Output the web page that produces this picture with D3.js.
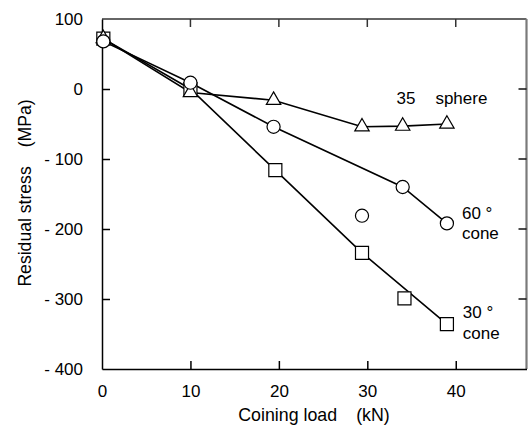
<!DOCTYPE html>
<html>
<head>
<meta charset="utf-8">
<script src="https://cdn.jsdelivr.net/npm/d3@7"></script>
<style>
  body { margin: 0; background: #fff; }
  text { font-family: "Liberation Sans", Arial, sans-serif; fill: #000; }
</style>
</head>
<body>
<svg id="chart" width="530" height="426"></svg>
<script>
// tick values / labels
const xTicks = [0, 10, 20, 30, 40];
const yTicks = [100, 0, -100, -200, -300, -400];
const yTickLabel = v => v < 0 ? "- " + Math.abs(v) : String(v);

// 35 sphere (triangles)
const sphereLoad = [0.15, 10, 19.4, 29.4, 34, 39];
const sphereStress = [72, -5, -16, -54, -53, -50];

// 60 deg cone (circles), connected points + one loose point
const cone60Load = [0.15, 10, 19.4, 34, 39];
const cone60Stress = [68, 9, -54, -140, -192];
const cone60ExtraLoad = [29.4];
const cone60ExtraStress = [-181];

// 30 deg cone (squares), connected points + one loose point
const cone30Load = [0.15, 10, 19.6, 29.4, 39];
const cone30Stress = [72, 0, -116, -234, -336];
const cone30ExtraLoad = [34.2];
const cone30ExtraStress = [-299];

const zip = (xs, ys) => xs.map((x, i) => ({x: x, y: ys[i]}));

const svg = d3.select("#chart");
const margins = {left: 102, top: 19, right: 3.5, bottom: 57};
const width = +svg.attr("width");
const height = +svg.attr("height");

const xScale = d3.scaleLinear()
                 .domain([0, 48])
                 .range([margins.left, width - margins.right]);
const yScale = d3.scaleLinear()
                 .domain([-400, 100])
                 .range([height - margins.bottom, margins.top]);

const x0 = xScale.range()[0], x1 = xScale.range()[1];
const y0 = yScale.range()[0], y1 = yScale.range()[1];
const tickLen = 8;

// frame
svg.append("line").attr("x1", x0).attr("x2", x1).attr("y1", y1).attr("y2", y1)
   .attr("stroke", "#333").attr("stroke-width", 1.5);
svg.append("line").attr("x1", x1).attr("x2", x1).attr("y1", y1).attr("y2", y0)
   .attr("stroke", "#7a7a7a").attr("stroke-width", 2.2);

// x axis (ticks inward, top and bottom)
const xAxisG = svg.append("g").attr("transform", `translate(0, ${y0})`);
xAxisG.call(d3.axisBottom(xScale).tickValues(xTicks).tickSize(-tickLen).tickPadding(16).tickSizeOuter(0));
svg.append("g").selectAll("line")
   .data(xTicks.filter(d => d > 0))
   .join("line")
   .attr("x1", d => xScale(d)).attr("x2", d => xScale(d))
   .attr("y1", y1).attr("y2", y1 + tickLen)
   .attr("stroke", "#333").attr("stroke-width", 1.5);

// y axis (ticks inward, left and right)
const yAxisG = svg.append("g").attr("transform", `translate(${x0}, 0)`);
yAxisG.call(d3.axisLeft(yScale).tickValues(yTicks).tickFormat(yTickLabel)
              .tickSize(-tickLen).tickPadding(19).tickSizeOuter(0));
svg.append("g").selectAll("line")
   .data(yTicks.filter(d => d > -400 && d < 100))
   .join("line")
   .attr("x1", x1 - tickLen).attr("x2", x1)
   .attr("y1", d => yScale(d)).attr("y2", d => yScale(d))
   .attr("stroke", "#111").attr("stroke-width", 1.5);

svg.selectAll(".tick line").attr("stroke", "#000").attr("stroke-width", 1.5);
svg.selectAll(".domain").attr("stroke", "#000").attr("stroke-width", 1.5);
svg.selectAll(".tick text").attr("font-size", 17).attr("fill", "#000")
   .attr("font-family", "Liberation Sans, Arial, sans-serif");
xAxisG.selectAll(".tick").filter(d => d === 0).select("line").remove();
yAxisG.selectAll(".tick").filter(d => d === 100 || d === -400).select("line").remove();

// axis titles
const yTitle = svg.append("text")
   .attr("transform", "translate(31, 193) rotate(-90)")
   .attr("text-anchor", "middle").attr("font-size", 17.6);
yTitle.append("tspan").text("Residual stress");
yTitle.append("tspan").attr("dx", 19).text("(MPa)");

const xTitle = svg.append("text")
   .attr("x", 314).attr("y", 421)
   .attr("text-anchor", "middle").attr("font-size", 17.8);
xTitle.append("tspan").text("Coining load");
xTitle.append("tspan").attr("dx", 19).text("(kN)");

// lines
const line = d3.line().x(d => xScale(d.x)).y(d => yScale(d.y));
const series = [zip(cone30Load, cone30Stress), zip(cone60Load, cone60Stress), zip(sphereLoad, sphereStress)];
svg.append("g").selectAll("path")
   .data(series)
   .join("path")
   .attr("d", line)
   .attr("fill", "none")
   .attr("stroke", "#000")
   .attr("stroke-width", 1.6);

// markers
const drawMarkers = (pts, type, size) => {
    svg.append("g").selectAll("path")
       .data(pts)
       .join("path")
       .attr("transform", d => `translate(${xScale(d.x)}, ${yScale(d.y)})`)
       .attr("d", d3.symbol().type(type).size(size))
       .attr("fill", "#fff")
       .attr("stroke", "#000")
       .attr("stroke-width", 1.2);
};
drawMarkers(zip(cone30Load, cone30Stress).concat(zip(cone30ExtraLoad, cone30ExtraStress)), d3.symbolSquare, 170);
drawMarkers(zip(sphereLoad, sphereStress), d3.symbolTriangle, 90);
drawMarkers(zip(cone60Load, cone60Stress).concat(zip(cone60ExtraLoad, cone60ExtraStress)), d3.symbolCircle, 135);

// series labels
const labels = [
    {x: 33.3, y: -21, parts: ["35", "sphere"]},
    {x: 40.7, y: -185, parts: ["60 \u00b0"]},
    {x: 40.7, y: -214, parts: ["cone"]},
    {x: 40.8, y: -327, parts: ["30 \u00b0"]},
    {x: 40.8, y: -357, parts: ["cone"]}
];
labels.forEach(l => {
    const t = svg.append("text")
                 .attr("x", xScale(l.x)).attr("y", yScale(l.y))
                 .attr("font-size", 17);
    t.append("tspan").text(l.parts[0]);
    if (l.parts[1]) t.append("tspan").attr("dx", 20).text(l.parts[1]);
});
</script>
</body>
</html>
